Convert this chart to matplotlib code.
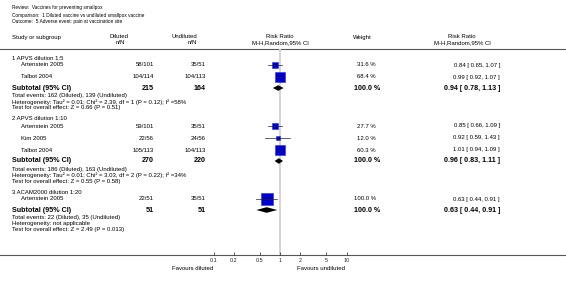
import numpy as np
import matplotlib.pyplot as plt

plt.rcParams['font.family'] = ['Liberation Sans', 'DejaVu Sans']

# ---- data ----
review = "Review:  Vaccines for preventing smallpox"
comparison = "Comparison:  1 Diluted vaccine vs undiluted smallpox vaccine"
outcome = "Outcome:  5 Adverse event: pain at vaccination site"

groups = ["1 APVS dilution 1:5", "2 APVS dilution 1:10", "3 ACAM2000 dilution 1:20"]
study_group = [0, 0, 1, 1, 1, 2]
studies = ["Artenstein 2005", "Talbot 2004", "Artenstein 2005", "Kim 2005", "Talbot 2004", "Artenstein 2005"]
dil_events = [58, 104, 59, 22, 105, 22]
dil_n = [101, 114, 101, 56, 113, 51]
undil_events = [35, 104, 35, 24, 104, 35]
undil_n = [51, 113, 51, 56, 113, 51]
weights = [31.6, 68.4, 27.7, 12.0, 60.3, 100.0]
rr = [0.84, 0.99, 0.85, 0.92, 1.01, 0.63]
rr_lo = [0.65, 0.92, 0.66, 0.59, 0.94, 0.44]
rr_hi = [1.07, 1.07, 1.09, 1.43, 1.09, 0.91]

sub_dil_n = [215, 270, 51]
sub_undil_n = [164, 220, 51]
sub_rr = [0.94, 0.96, 0.63]
sub_lo = [0.78, 0.83, 0.44]
sub_hi = [1.13, 1.11, 0.91]
tot_dil = [162, 186, 22]
tot_undil = [139, 163, 35]
heterogeneity = [
    "Heterogeneity: Tau\u00b2 = 0.01; Chi\u00b2 = 2.39, df = 1 (P = 0.12); I\u00b2 =58%",
    "Heterogeneity: Tau\u00b2 = 0.01; Chi\u00b2 = 3.03, df = 2 (P = 0.22); I\u00b2 =34%",
    "Heterogeneity: not applicable",
]
overall = [
    "Test for overall effect: Z = 0.66 (P = 0.51)",
    "Test for overall effect: Z = 0.55 (P = 0.58)",
    "Test for overall effect: Z = 2.49 (P = 0.013)",
]
ticks = [0.1, 0.2, 0.5, 1, 2, 5, 10]
tick_labels = ["0.1", "0.2", "0.5", "1", "2", "5", "10"]

# ---- layout (pixel units) ----
W, H = 566, 285
fig = plt.figure(figsize=(W / 100, H / 100), dpi=100)
ax = fig.add_axes([0, 0, 1, 1])
ax.set_xlim(0, W)
ax.set_ylim(H, 0)
ax.axis('off')

top_line, axis_line = 49, 255
x0, x1 = 213.5, 346.5  # pixel span of 0.1 .. 10
fx = fig.add_axes([x0 / W, (H - axis_line) / H, (x1 - x0) / W, (axis_line - top_line) / H])
fx.set_xscale('log')
fx.set_xlim(0.1, 10)
fx.set_ylim(axis_line, top_line)
fx.patch.set_alpha(0)
for s in fx.spines.values():
    s.set_visible(False)
fx.set_yticks([])
fx.set_xticks(ticks)
fx.set_xticklabels(tick_labels)
fx.minorticks_off()
fx.tick_params(axis='x', direction='in', length=2, width=0.5, pad=2, labelsize=3.9, colors='#222222')
fx.axvline(1, color='#d4d4d4', lw=1.4, zorder=0)

fh = 3.4   # top header lines
fs = 4.3   # body text
fsb = 5.1  # bold subtotal rows
col_dil, col_undil, col_w, col_rr = 154, 206, 376, 500

ax.text(12, 8, review, fontsize=fh, va='center')
ax.text(12, 15, comparison, fontsize=fh, va='center')
ax.text(12, 22, outcome, fontsize=fh, va='center')

ax.text(12, 37, "Study or subgroup", fontsize=fs, va='center')
ax.text(128, 37, "Diluted", fontsize=fs, va='center', ha='right')
ax.text(125, 43, "n/N", fontsize=fs, va='center', ha='right')
ax.text(197, 37, "Undiluted", fontsize=fs, va='center', ha='right')
ax.text(197, 43, "n/N", fontsize=fs, va='center', ha='right')
ax.text(280, 37, "Risk Ratio", fontsize=fs, va='center', ha='center')
ax.text(280, 43, "M-H,Random,95% CI", fontsize=fs, va='center', ha='center')
ax.text(362, 37, "Weight", fontsize=fs, va='center', ha='center')
ax.text(462, 37, "Risk Ratio", fontsize=fs, va='center', ha='center')
ax.text(462, 43, "M-H,Random,95% CI", fontsize=fs, va='center', ha='center')

ax.plot([0, W], [top_line, top_line], color='#555555', lw=0.8)
ax.plot([0, W], [axis_line, axis_line], color='#555555', lw=0.8)

y = 58
for g, name in enumerate(groups):
    ax.text(12, y, name, fontsize=fs, va='center')
    y += 7
    idx = [i for i, sg in enumerate(study_group) if sg == g]
    for i in idx:
        ax.text(21, y, studies[i], fontsize=fs, va='center')
        ax.text(col_dil, y, f"{dil_events[i]}/{dil_n[i]}", fontsize=fs, va='center', ha='right')
        ax.text(col_undil, y, f"{undil_events[i]}/{undil_n[i]}", fontsize=fs, va='center', ha='right')
        ax.text(col_w, y, f"{weights[i]:.1f} %", fontsize=fs, va='center', ha='right')
        ax.text(col_rr, y, f"{rr[i]:.2f} [ {rr_lo[i]:.2f}, {rr_hi[i]:.2f} ]", fontsize=fs, va='center', ha='right')
        side = 12 * np.sqrt(weights[i] / 100) * 0.72
        fx.plot(rr[i], y, marker='s', ms=side, color='#0000cc', mec='#2a2aff', mew=0.4, zorder=3)
        fx.plot([rr_lo[i], rr_hi[i]], [y, y], color='#222222', lw=0.5, zorder=4)
        y += 12
    y -= 1
    ax.text(12, y, "Subtotal (95% CI)", fontsize=fsb, va='center', fontweight='bold')
    ax.text(col_dil, y, f"{sub_dil_n[g]}", fontsize=fsb, va='center', ha='right', fontweight='bold')
    ax.text(col_undil, y, f"{sub_undil_n[g]}", fontsize=fsb, va='center', ha='right', fontweight='bold')
    ax.text(col_w + 4, y, "100.0 %", fontsize=fsb, va='center', ha='right', fontweight='bold')
    ax.text(col_rr, y, f"{sub_rr[g]:.2f} [ {sub_lo[g]:.2f}, {sub_hi[g]:.2f} ]", fontsize=fsb,
            va='center', ha='right', fontweight='bold')
    fx.fill([sub_lo[g], sub_rr[g], sub_hi[g], sub_rr[g]], [y, y - 2.8, y, y + 2.8],
            color='black', lw=0, zorder=3)
    y += 8
    ax.text(12, y, f"Total events: {tot_dil[g]} (Diluted), {tot_undil[g]} (Undiluted)", fontsize=fs, va='center')
    y += 6
    ax.text(12, y, heterogeneity[g], fontsize=fs, va='center')
    y += 6
    ax.text(12, y, overall[g], fontsize=fs, va='center')
    y += 11

ax.text(213, 268, "Favours diluted", fontsize=fs, va='center', ha='right')
ax.text(297, 268, "Favours undiluted", fontsize=fs, va='center', ha='left')

fig.savefig("out.png", dpi=100)
